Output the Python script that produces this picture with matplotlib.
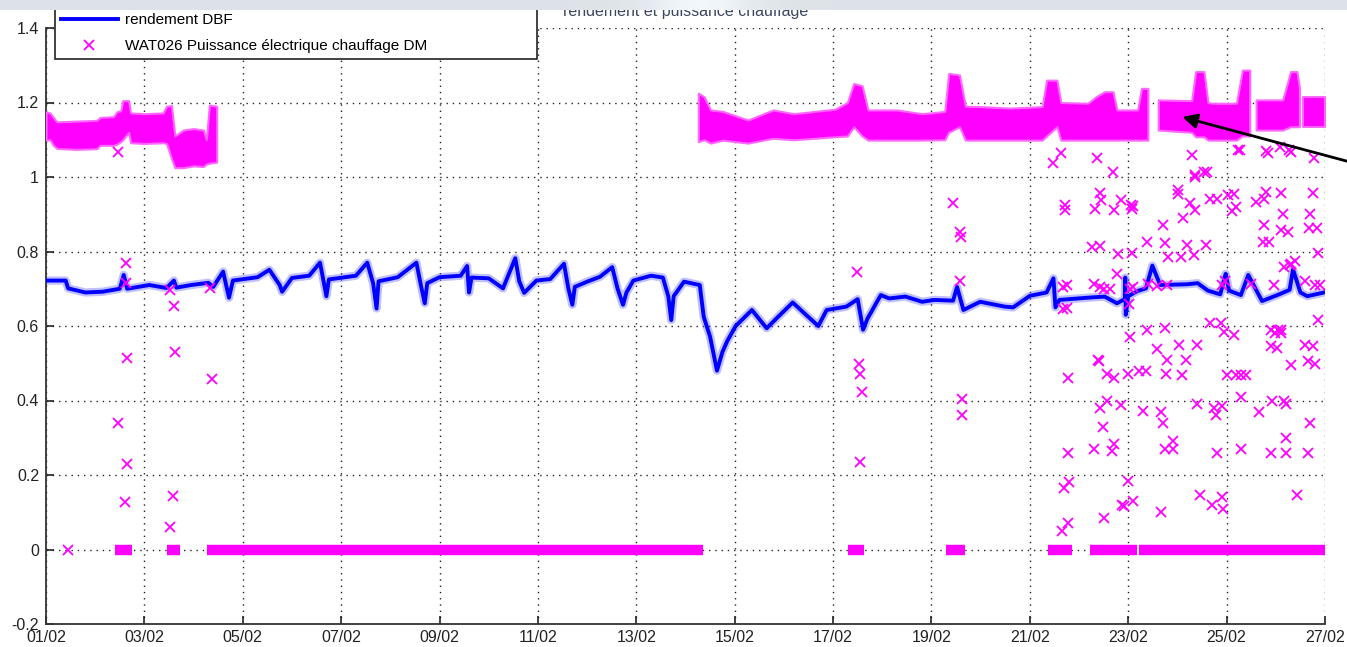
import numpy as np
import matplotlib.pyplot as plt
from matplotlib.ticker import FixedLocator, FuncFormatter

plt.rcParams['font.family'] = ['Liberation Sans', 'DejaVu Sans']
plt.rcParams['axes.unicode_minus'] = False

# Time axis: days since 01/02
tick_days = list(range(0, 27, 2))
tick_labels = ["01/02", "03/02", "05/02", "07/02", "09/02", "11/02", "13/02",
               "15/02", "17/02", "19/02", "21/02", "23/02", "25/02", "27/02"]

# rendement DBF (blue line)
eff_day = [0.00, 0.40, 0.45, 0.80, 1.15, 1.50, 1.58, 1.65, 2.10, 2.45, 2.60, 2.65,
           2.95, 3.30, 3.40, 3.60, 3.72, 3.80, 4.30, 4.54, 4.75, 4.80, 5.00, 5.35,
           5.57, 5.65, 5.70, 5.75, 6.30, 6.53, 6.65, 6.72, 6.76, 7.15, 7.53, 7.62,
           7.70, 7.75, 8.00, 8.43, 8.56, 8.60, 8.65, 9.00, 9.29, 9.54, 9.62, 9.72,
           9.97, 10.25, 10.53, 10.62, 10.70, 10.75, 11.00, 11.26, 11.51, 11.62,
           11.73, 11.80, 11.94, 12.30, 12.54, 12.65, 12.71, 12.76, 12.97, 13.29,
           13.37, 13.50, 13.64, 13.75, 13.85, 14.02, 14.35, 14.65, 14.90, 15.18,
           15.45, 15.70, 15.87, 16.27, 16.50, 16.61, 16.70, 16.97, 17.14, 17.47,
           17.81, 18.06, 18.44, 18.52, 18.65, 18.99, 19.49, 19.66, 20.00, 20.34,
           20.48, 20.52, 20.60, 21.18, 21.52, 21.77, 21.93, 21.94, 21.95, 22.00,
           22.19, 22.36, 22.49, 22.65, 23.20, 23.41, 23.62, 23.87, 23.98, 24.05,
           24.29, 24.44, 24.72, 25.05, 25.28, 25.35, 25.50, 25.64, 25.98]
eff_val = [0.722, 0.722, 0.701, 0.690, 0.692, 0.700, 0.737, 0.700, 0.710, 0.702, 0.722, 0.703,
           0.710, 0.716, 0.705, 0.746, 0.676, 0.722, 0.731, 0.751, 0.710, 0.692, 0.729, 0.735,
           0.770, 0.715, 0.680, 0.725, 0.735, 0.770, 0.715, 0.647, 0.720, 0.731, 0.770, 0.710,
           0.661, 0.715, 0.731, 0.735, 0.761, 0.690, 0.730, 0.728, 0.701, 0.782, 0.720, 0.689,
           0.722, 0.726, 0.767, 0.700, 0.657, 0.705, 0.719, 0.732, 0.758, 0.700,
           0.657, 0.690, 0.722, 0.735, 0.730, 0.680, 0.616, 0.680, 0.719, 0.710,
           0.625, 0.571, 0.480, 0.530, 0.560, 0.600, 0.643, 0.594, 0.627, 0.663,
           0.630, 0.600, 0.643, 0.652, 0.672, 0.590, 0.620, 0.683, 0.674, 0.679,
           0.665, 0.670, 0.668, 0.705, 0.643, 0.665, 0.652, 0.650, 0.681, 0.690,
           0.728, 0.650, 0.670, 0.676, 0.679, 0.661, 0.672, 0.730, 0.630, 0.680,
           0.694, 0.701, 0.762, 0.710, 0.712, 0.715, 0.695, 0.685, 0.740, 0.695,
           0.683, 0.737, 0.667, 0.684, 0.697, 0.752, 0.690, 0.680, 0.690]

# WAT026 heating power: dense band periods (day, upper edge, lower edge)
band1_day = [0.0, 0.08, 0.15, 0.22, 0.6, 1.03, 1.1, 1.37, 1.44, 1.52, 1.56, 1.68,
             1.72, 2.0, 2.38, 2.45, 2.55, 2.62, 2.79, 3.0, 3.2, 3.26, 3.32, 3.47]
band1_hi = [1.175, 1.172, 1.160, 1.148, 1.150, 1.152, 1.160, 1.162, 1.175, 1.178, 1.205, 1.205,
            1.172, 1.170, 1.172, 1.190, 1.192, 1.110, 1.126, 1.130, 1.126, 1.100, 1.193, 1.190]
band1_lo = [1.099, 1.100, 1.085, 1.077, 1.074, 1.076, 1.085, 1.085, 1.088, 1.095, 1.100, 1.120,
            1.092, 1.090, 1.092, 1.090, 1.050, 1.025, 1.025, 1.030, 1.028, 1.035, 1.037, 1.040]

band2_day = [13.26, 13.38, 13.51, 13.76, 14.27, 14.78, 15.2, 15.62, 16.04, 16.29, 16.42,
             16.59, 16.71, 17.3, 17.81, 18.27, 18.35, 18.57, 18.69, 18.99, 19.6, 20.25,
             20.34, 20.55, 20.63, 21.18, 21.35, 21.52, 21.69, 21.77, 22.19, 22.27, 22.4]
band2_hi = [1.225, 1.215, 1.180, 1.176, 1.153, 1.180, 1.170, 1.176, 1.182, 1.200, 1.251,
            1.245, 1.180, 1.180, 1.170, 1.176, 1.278, 1.274, 1.190, 1.189, 1.185, 1.189,
            1.260, 1.260, 1.200, 1.198, 1.216, 1.229, 1.229, 1.180, 1.180, 1.238, 1.238]
band2_lo = [1.095, 1.100, 1.091, 1.099, 1.091, 1.104, 1.100, 1.104, 1.108, 1.110, 1.135,
            1.110, 1.099, 1.099, 1.099, 1.100, 1.120, 1.135, 1.099, 1.099, 1.099, 1.099,
            1.110, 1.135, 1.099, 1.099, 1.099, 1.099, 1.099, 1.099, 1.099, 1.099, 1.099]

band3_day = [22.61, 23.29, 23.37, 23.54, 23.62, 23.7, 24.2, 24.32, 24.47]
band3_hi = [1.207, 1.205, 1.283, 1.283, 1.200, 1.198, 1.198, 1.287, 1.287]
band3_lo = [1.126, 1.120, 1.108, 1.108, 1.099, 1.099, 1.099, 1.110, 1.110]

band4_day = [24.6, 25.14, 25.3, 25.43, 25.48]
band4_hi = [1.207, 1.207, 1.283, 1.283, 1.240]
band4_lo = [1.126, 1.126, 1.135, 1.135, 1.135]

band5_day = [25.55, 26.0]
band5_hi = [1.216, 1.216]
band5_lo = [1.135, 1.135]

# periods where the power sits at zero (start day, end day)
zero_start = [1.40, 2.45, 3.27, 16.30, 18.30, 20.37, 21.22, 22.22]
zero_end = [1.74, 2.72, 13.35, 16.62, 18.68, 20.85, 22.17, 26.00]

# isolated power samples (day, value)
pts_day = [0.45, 1.47, 1.47, 1.61, 1.65, 1.65, 1.63, 1.63, 2.53, 2.53, 2.59, 2.60, 2.62, 3.34, 3.37,
           16.48, 16.52, 16.55, 16.58, 16.54,
           18.43, 18.59, 18.60, 18.59, 18.62, 18.62,
           20.47, 20.64, 20.71, 20.71, 20.75, 20.75, 20.78, 20.78, 20.70, 20.80, 20.78, 20.65, 20.67, 20.67,
           21.36, 21.69, 21.43, 21.45, 21.33, 21.72, 21.86, 21.26, 21.43, 21.80, 21.30, 21.42, 21.50, 21.62,
           21.78, 21.39, 21.41, 21.56, 21.72, 21.56, 21.42, 21.86, 21.48, 21.30, 21.66, 21.72, 21.50, 21.88,
           21.92,
           22.05, 22.08, 22.10, 22.07, 22.03, 22.10, 22.02, 22.03, 22.00, 22.22, 22.30, 22.36, 22.00, 22.10,
           22.39, 22.39, 22.40, 22.58, 22.58, 22.67, 22.70, 22.67, 22.70, 22.74, 22.74, 22.77, 22.79, 22.80,
           22.78, 22.75, 22.90, 22.90,
           23.02, 23.02, 23.03, 23.08, 23.10, 23.12, 23.17, 23.20, 23.25, 23.30, 23.35, 23.34, 23.35, 23.36,
           23.40, 23.40, 23.45, 23.55, 23.59, 23.60, 23.67, 23.67, 23.70, 23.75, 23.78, 23.80, 23.80, 23.88,
           23.90, 23.90, 23.90, 23.92, 23.95, 23.97,
           24.03, 24.10, 24.00, 24.14, 24.15, 24.20, 24.20, 24.24, 24.27, 24.30, 24.30, 24.30, 24.40, 24.50,
           24.60, 24.66, 24.74, 24.75, 24.75, 24.80, 24.80, 24.84, 24.86, 24.90, 24.90, 24.90, 24.92, 24.96,
           24.99,
           25.02, 25.05, 25.08, 25.10, 25.10, 25.10, 25.10, 25.15, 25.16, 25.17, 25.20, 25.20, 25.20, 25.24,
           25.27, 25.28, 25.30, 25.30, 25.30, 25.40, 25.43, 25.60, 25.60, 25.65, 25.66, 25.67, 25.70, 25.70,
           25.75, 25.75, 25.78, 25.80, 25.80, 25.83, 25.85, 25.85, 25.90]
pts_val = [0.000, 1.068, 0.339, 0.128, 0.230, 0.514, 0.768, 0.716, 0.697, 0.061, 0.144, 0.654, 0.531, 0.701, 0.457,
           0.745, 0.497, 0.471, 0.423, 0.235,
           0.930, 0.853, 0.840, 0.722, 0.405, 0.361,
           1.037, 1.064, 0.925, 0.911, 0.710, 0.649, 0.460, 0.258, 0.165, 0.180, 0.070, 0.050, 0.706, 0.646,
           1.050, 1.014, 0.957, 0.938, 0.915, 0.911, 0.938, 0.812, 0.815, 0.794, 0.712, 0.705, 0.700, 0.700,
           0.740, 0.509, 0.507, 0.470, 0.460, 0.400, 0.380, 0.387, 0.330, 0.270, 0.265, 0.283, 0.085, 0.120,
           0.118,
           0.925, 0.915, 0.922, 0.795, 0.700, 0.705, 0.660, 0.571, 0.470, 0.480, 0.372, 0.480, 0.185, 0.130,
           0.589, 0.826, 0.712, 0.708, 0.539, 0.370, 0.340, 0.100, 0.870, 0.824, 0.594, 0.470, 0.509, 0.785,
           0.710, 0.270, 0.290, 0.270,
           0.965, 0.955, 0.548, 0.784, 0.468, 0.889, 0.510, 0.817, 0.929, 1.059, 0.911, 0.790, 1.000, 1.006,
           0.549, 0.390, 0.145, 1.014, 0.817, 1.014, 0.940, 0.607, 0.120, 0.380, 0.360, 0.940, 0.260, 0.607,
           0.710, 0.385, 0.140, 0.110, 0.585, 0.720,
           0.952, 0.910, 0.468, 0.576, 0.955, 0.920, 0.468, 1.073, 1.073, 0.410, 0.270, 0.468, 0.468, 0.712,
           0.934, 0.370, 0.826, 0.940, 0.870, 1.069, 0.961, 1.064, 0.826, 0.545, 0.258, 0.588, 0.400, 0.710,
           0.580,
           0.541, 0.588, 1.080, 0.956, 0.857, 0.580, 0.588, 0.900, 0.759, 0.400, 0.300, 0.258, 0.390, 0.853,
           1.073, 0.765, 0.767, 0.495, 1.067, 0.775, 0.145, 0.549, 0.720, 0.260, 0.505, 0.862, 0.900, 0.340,
           0.956, 0.546, 1.050, 0.710, 0.498, 0.862, 0.795, 0.616, 0.710]

# arrow target on the chart
arrow_day, arrow_val = 23.1, 1.161

blue = "#0000ff"
magenta = "#ff00ff"

fig = plt.figure(figsize=(13.47, 6.47), dpi=100)
ax = fig.add_axes([46 / 1347, 1 - 624 / 647, (1325 - 46) / 1347, (624 - 28) / 647])

# soft halo under the line to mimic the noisy band
ax.plot(eff_day, eff_val, color="#4d4dff", lw=6, alpha=0.35, zorder=2, solid_joinstyle="round")
ax.plot(eff_day, eff_val, color=blue, lw=2.8, zorder=3, label="rendement DBF")

for d, hi, lo in [(band1_day, band1_hi, band1_lo), (band2_day, band2_hi, band2_lo),
                  (band3_day, band3_hi, band3_lo), (band4_day, band4_hi, band4_lo),
                  (band5_day, band5_hi, band5_lo)]:
    ax.fill_between(d, lo, hi, color=magenta, lw=1.5, edgecolor="#ff66ff", zorder=4)

ax.hlines(np.zeros(len(zero_start)), zero_start, zero_end, color=magenta, lw=7.5, zorder=4)

ax.plot(pts_day, pts_val, "x", color=magenta, ms=6.5, mew=1.3, zorder=5,
        label="WAT026 Puissance électrique chauffage DM")

ax.set_xlim(0, 26)
ax.set_ylim(-0.2, 1.4)
ax.xaxis.set_major_locator(FixedLocator(tick_days))
ax.set_xticklabels(tick_labels)
ax.yaxis.set_major_locator(FixedLocator([-0.2, 0, 0.2, 0.4, 0.6, 0.8, 1.0, 1.2, 1.4]))
ax.yaxis.set_major_formatter(FuncFormatter(lambda v, p: f"{v:g}"))
ax.tick_params(direction="in", length=6, width=1.2, labelsize=11.5, colors="#222222")
ax.tick_params(axis="x", pad=4.5)
ax.tick_params(axis="y", pad=5)
ax.grid(True, color="#222222", linestyle=(0, (1, 3.5)), lw=1.0)
for s in ["top", "right"]:
    ax.spines[s].set_visible(False)
for s in ["left", "bottom"]:
    ax.spines[s].set_linewidth(1.3)
    ax.spines[s].set_color("#333333")

ax.set_title("rendement et puissance chauffage", fontsize=11.5, color="#3a4660", pad=8.5)

leg = ax.legend(loc="lower left", bbox_to_anchor=(55 / 1347, 1 - 59 / 647, (537 - 55) / 1347, 0.05),
                bbox_transform=fig.transFigure, mode="expand", fancybox=False, framealpha=1,
                edgecolor="#222222", fontsize=11, handlelength=3.7, handletextpad=0.5,
                numpoints=1, borderaxespad=0, labelspacing=0.75)
leg.get_frame().set_linewidth(1.2)
leg.set_zorder(10)

# arrow pointing at the power band
ax.annotate("", xy=(arrow_day, arrow_val), xycoords="data",
            xytext=(1.005, 1 - 163 / 647), textcoords="figure fraction",
            arrowprops=dict(arrowstyle="-|>", color="black", lw=2, mutation_scale=22,
                            shrinkA=0, shrinkB=0),
            annotation_clip=False, zorder=12)

# slide header strip at the top
strip = fig.add_axes([0, 1 - 10 / 647, 1, 10 / 647])
xs = np.linspace(0, 1, 400)
base = np.array([0.87, 0.89, 0.91])
glow = np.exp(-((xs - 0.52) / 0.04) ** 2) * 0.08
row = np.clip(base[None, :] + glow[:, None], 0, 1)
strip.imshow(row[None, :, :], aspect="auto", extent=(0, 1, 0, 1))
strip.axis("off")

fig.savefig("out.png", dpi=100)
